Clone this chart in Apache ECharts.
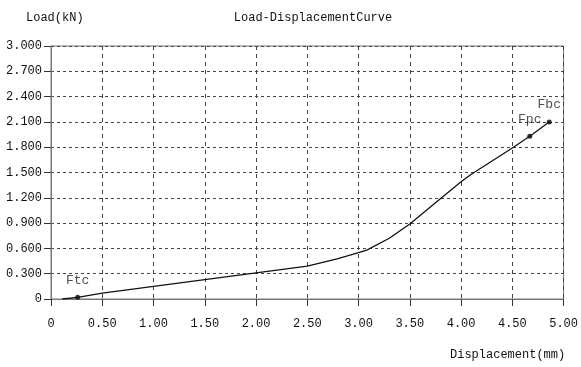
<!DOCTYPE html>
<html>
<head>
<meta charset="utf-8">
<script src="https://cdn.jsdelivr.net/npm/echarts@6/dist/echarts.min.js"></script>
<style>
html,body{margin:0;padding:0;background:#fff;}
#main{width:581px;height:367px;}
</style>
</head>
<body>
<div id="main"></div>
<script>
// curve
var dispData = [0.11, 0.26, 0.5, 1.0, 1.5, 2.0, 2.5, 2.8, 3.0, 3.08, 3.3, 3.5, 3.78, 4.0, 4.1, 4.5, 4.67, 4.86];
var loadData = [0, 0.02, 0.07, 0.15, 0.23, 0.31, 0.39, 0.48, 0.55, 0.58, 0.72, 0.89, 1.17, 1.39, 1.48, 1.79, 1.93, 2.10];
// marked points
var pointNames = ['Ftc', 'Fpc', 'Fbc'];
var pointDisp = [0.26, 4.67, 4.86];
var pointLoad = [0.02, 1.93, 2.10];

var fontName = 'Liberation Mono';

var lineData = [];
for (var i = 0; i < dispData.length; i++) {
    lineData.push([dispData[i], loadData[i]]);
}
var markData = [];
for (var j = 0; j < pointNames.length; j++) {
    markData.push({name: pointNames[j], value: [pointDisp[j], pointLoad[j]]});
}

var myChart = echarts.init(document.getElementById('main'));

option = {
    backgroundColor: '#fff',
    animation: false,
    textStyle: {fontFamily: fontName},
    title: [
        {
            text: 'Load-DisplacementCurve',
            left: 308, top: 7, textAlign: 'center',
            textStyle: {fontFamily: fontName, fontSize: 12, fontWeight: 'normal', color: '#111'}
        },
        {
            text: 'Load(kN)',
            left: 21, top: 7,
            textStyle: {fontFamily: fontName, fontSize: 12, fontWeight: 'normal', color: '#111'}
        },
        {
            text: 'Displacement(mm)',
            left: 445, top: 344,
            textStyle: {fontFamily: fontName, fontSize: 12, fontWeight: 'normal', color: '#111'}
        }
    ],
    grid: {
        left: 51,
        right: 16,
        top: 46,
        bottom: 68,
        show: true,
        borderColor: '#777',
        borderWidth: 1
    },
    xAxis: {
        type: 'value',
        min: 0,
        max: 5,
        interval: 0.5,
        axisLine: {lineStyle: {color: '#777'}},
        axisTick: {show: true, inside: false, length: 7, lineStyle: {color: '#333'}},
        axisLabel: {
            margin: 19,
            fontSize: 12,
            color: '#111',
            fontFamily: fontName,
            formatter: function (v) { return v === 0 ? '0' : v.toFixed(2); }
        },
        splitLine: {show: true, lineStyle: {color: '#444', type: [4, 4]}}
    },
    yAxis: {
        type: 'value',
        min: 0,
        max: 3,
        interval: 0.3,
        axisLine: {show: true, lineStyle: {color: '#777'}},
        axisTick: {show: true, inside: false, length: 7, lineStyle: {color: '#333'}},
        axisLabel: {
            margin: 9,
            fontSize: 12,
            color: '#111',
            fontFamily: fontName,
            formatter: function (v) { return v === 0 ? '0' : v.toFixed(3); }
        },
        splitLine: {show: true, lineStyle: {color: '#444', type: [3, 3]}}
    },
    series: [
        {
            type: 'line',
            data: lineData,
            showSymbol: false,
            lineStyle: {color: '#111', width: 1.3},
            silent: true
        },
        {
            type: 'scatter',
            data: markData,
            symbolSize: 5,
            itemStyle: {color: '#000'},
            label: {
                show: true,
                position: 'top',
                distance: 8,
                formatter: '{b}',
                fontFamily: fontName,
                fontSize: 13,
                color: '#222'
            }
        }
    ]
};

myChart.setOption(option);
</script>
</body>
</html>
